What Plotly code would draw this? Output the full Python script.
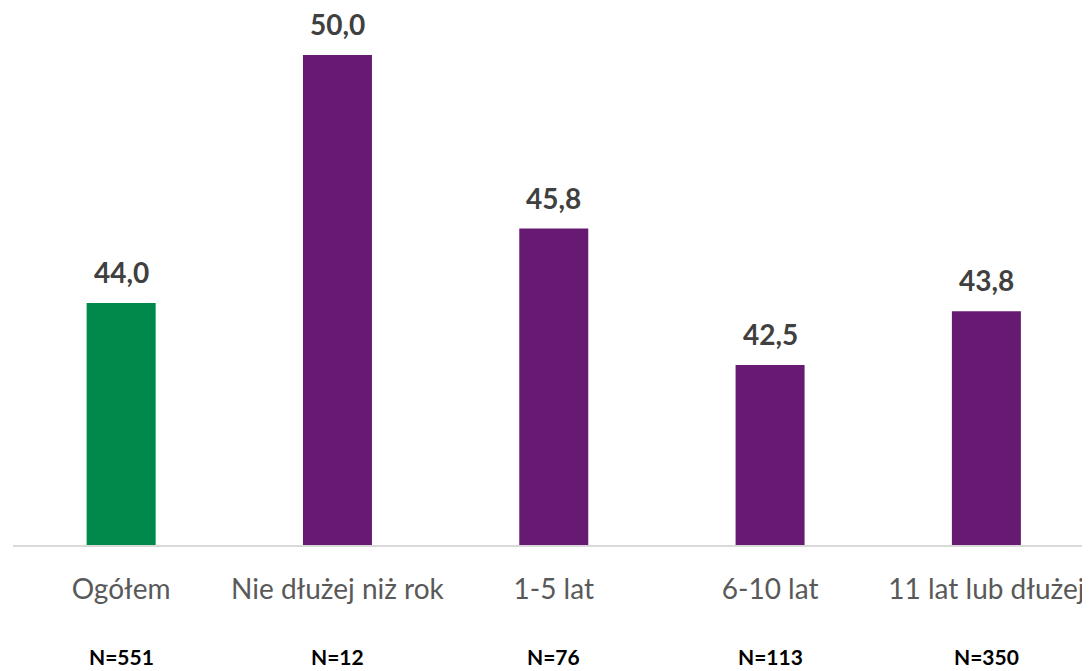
import plotly.graph_objects as go

# data
categories = ["Ogółem", "Nie dłużej niż rok", "1-5 lat", "6-10 lat", "11 lat lub dłużej"]
values = [44.0, 50.0, 45.8, 42.5, 43.8]
n_labels = ["N=551", "N=12", "N=76", "N=113", "N=350"]
bar_colors = ["#00894B", "#671A72", "#671A72", "#671A72", "#671A72"]

font_family = "Lato, 'Open Sans', sans-serif"

fig = go.Figure(
    go.Bar(
        x=categories,
        y=values,
        marker=dict(color=bar_colors, line=dict(width=0)),
        hoverinfo="x+y",
    )
)

# value labels above bars
for cat, val in zip(categories, values):
    fig.add_annotation(
        x=cat, y=val, xref="x", yref="y",
        text="<b>" + f"{val:.1f}".replace(".", ",") + "</b>",
        showarrow=False, yanchor="bottom", yshift=12,
        font=dict(family=font_family, size=28, color="#404040"),
    )

# sample size labels under the axis
for cat, n in zip(categories, n_labels):
    fig.add_annotation(
        x=cat, y=-0.207, xref="x", yref="paper",
        text="<b>" + n + "</b>",
        showarrow=False, yanchor="middle", borderpad=0,
        font=dict(family=font_family, size=21, color="#000000"),
    )

fig.update_xaxes(
    range=[-0.5, 4.479],
    showline=True, linecolor="#D9D9D9", linewidth=2,
    ticks="", showgrid=False,
    tickfont=dict(family=font_family, size=28, color="#595959"),
    ticklabelstandoff=18,
)
fig.update_yaxes(range=[38.14, 51.14], visible=False, showgrid=False)

# page has an 8px body margin, so the figure is sized to fit inside the window
fig.update_layout(
    width=1082, height=663,
    margin=dict(l=5, r=0, t=0, b=126),
    bargap=0.681,
    plot_bgcolor="white", paper_bgcolor="white",
    showlegend=False,
)

fig.write_html("out.html")
